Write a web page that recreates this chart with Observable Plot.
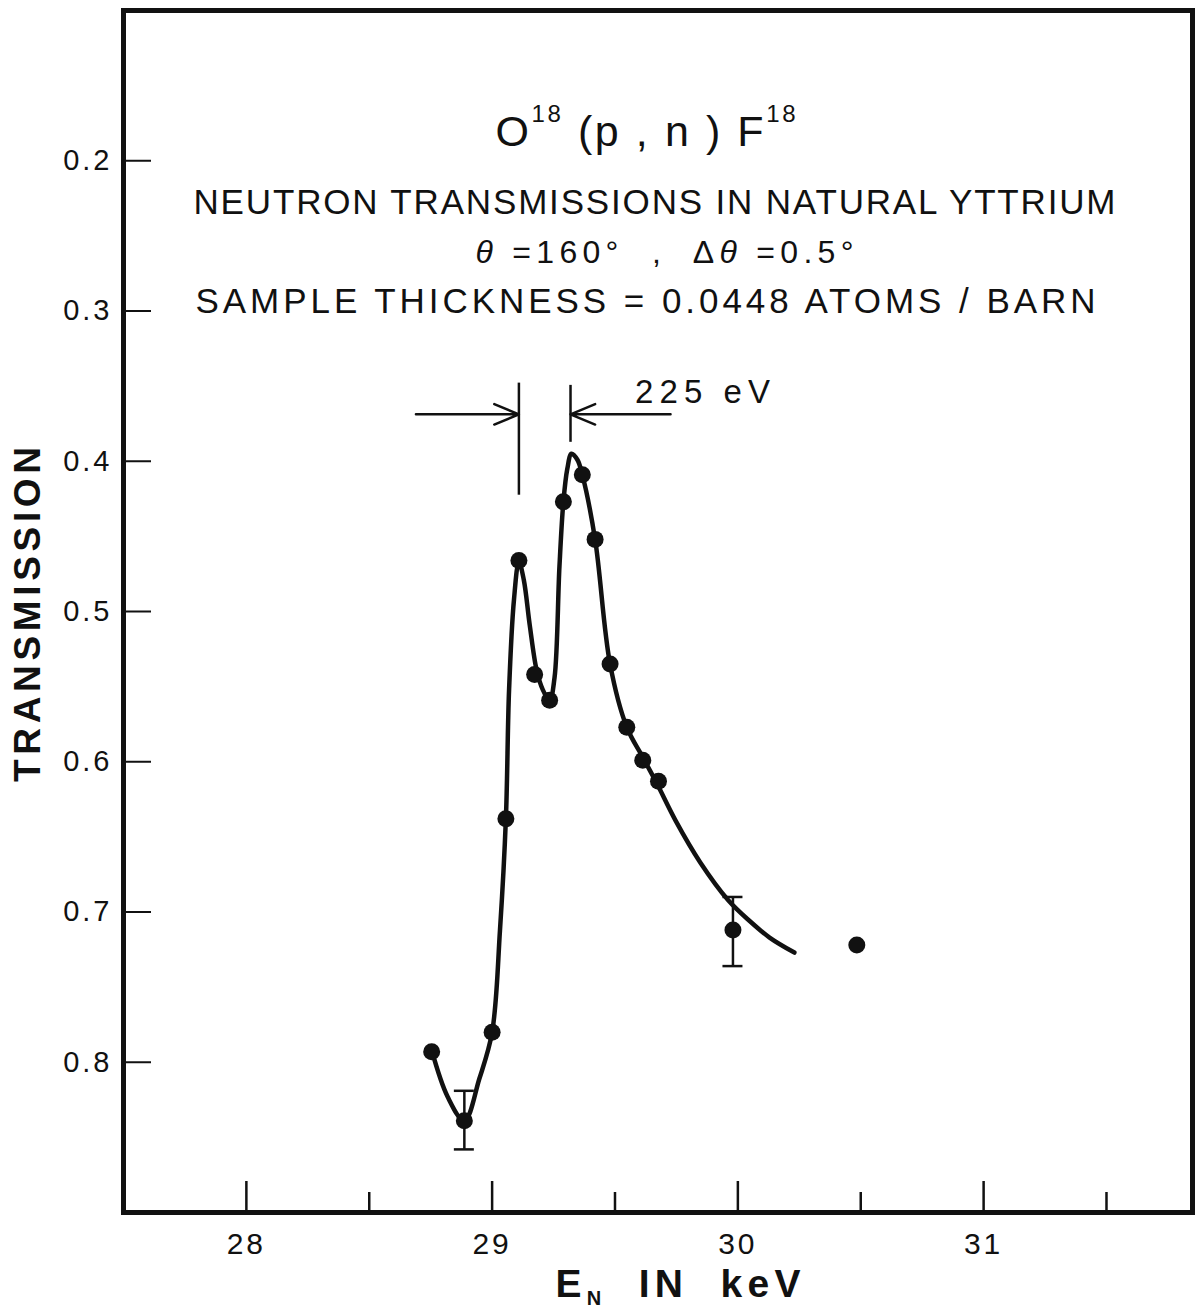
<!DOCTYPE html>
<html>
<head>
<meta charset="utf-8">
<script src="https://cdn.jsdelivr.net/npm/d3@7"></script>
<script src="https://cdn.jsdelivr.net/npm/@observablehq/plot@0.6"></script>
<style>
  html, body { margin: 0; padding: 0; background: #fff; }
  #chart svg { display: block; }
</style>
</head>
<body>
<div id="chart"></div>
<script>
// ---- data ----
const energy = [28.754, 28.887, 29.000, 29.056, 29.109, 29.173, 29.234, 29.290, 29.367, 29.419, 29.480, 29.548, 29.613, 29.677, 29.980, 30.484];
const transmission = [0.793, 0.839, 0.780, 0.638, 0.466, 0.542, 0.559, 0.427, 0.409, 0.452, 0.535, 0.577, 0.599, 0.613, 0.712, 0.722];

const errEnergy = [28.887, 29.980];
const errTop = [0.819, 0.690];
const errBottom = [0.858, 0.736];

const curveEnergy = [28.754, 28.819, 28.887, 28.948, 29.000, 29.032, 29.056, 29.069, 29.089, 29.109, 29.129, 29.153, 29.181, 29.206, 29.234, 29.254, 29.274, 29.290, 29.306, 29.323, 29.347, 29.367, 29.419, 29.480, 29.548, 29.613, 29.669, 29.746, 29.847, 29.960, 30.048, 30.129, 30.230];
const curveTransmission = [0.792, 0.823, 0.839, 0.811, 0.780, 0.712, 0.638, 0.552, 0.492, 0.467, 0.479, 0.509, 0.539, 0.552, 0.559, 0.544, 0.470, 0.427, 0.405, 0.395, 0.399, 0.409, 0.452, 0.535, 0.577, 0.597, 0.614, 0.639, 0.667, 0.692, 0.706, 0.717, 0.727];

const xMajorTicks = [28, 29, 30, 31];
const xMinorTicks = [28.5, 29.5, 30.5, 31.5];
const yTicks = [0.2, 0.3, 0.4, 0.5, 0.6, 0.7, 0.8];

// 225 eV width markers
const markerEnergy = [29.109, 29.319];
const markerTop = [0.348, 0.3495];
const markerBottom = [0.4226, 0.3874];
const arrowStart = [28.690, 29.726];
const arrowLevel = 0.3688;

// texts
const titleText = "O18 (p,n) F18";
const line1Text = "NEUTRON TRANSMISSIONS IN NATURAL YTTRIUM";
const line2Text = "θ =160° , Δθ =0.5°";
const line3Text = "SAMPLE THICKNESS = 0.0448 ATOMS / BARN";
const widthText = "225 eV";
const yLabelText = "TRANSMISSION";
const xLabelText = "EN IN keV";

// ---- layout ----
const W = 1197, H = 1315;
const mL = 123, mR = 5, mT = 10, mB = 103;
const plotW = W - mL - mR;
const plotH = H - mT - mB;

const points = energy.map((x, i) => ({x, y: transmission[i]}));
const curve = curveEnergy.map((x, i) => ({x, y: curveTransmission[i]}));
const errors = errEnergy.map((x, i) => ({x, top: errTop[i], bottom: errBottom[i]}));
const markers = markerEnergy.map((x, i) => ({x, y1: markerTop[i], y2: markerBottom[i]}));
const arrows = arrowStart.map((x1, i) => ({x1, x2: markerEnergy[i], y: arrowLevel}));

// annotation styling (pixel layout)
const notes = [
  {text: titleText, cx: 645, base: 145, size: 43, width: 300, weight: "normal",
   parts: [["O"], ["18", "sup"], [" (p , n ) F"], ["18", "sup"]]},
  {text: line1Text, cx: 654, base: 213, size: 35, width: 922, weight: "normal"},
  {text: line2Text, cx: 664, base: 262, size: 32, width: 378, weight: "normal",
   parts: [["θ", "it"], [" =160°  ,  Δ"], ["θ", "it"], [" =0.5°"]]},
  {text: line3Text, cx: 645, base: 312, size: 35, width: 900, weight: "normal"},
  {text: widthText, cx: 702, base: 402, size: 33, width: 135, weight: "normal"}
];

const marks = [
  Plot.frame({stroke: "#111", strokeWidth: 5}),
  // inward tick marks
  Plot.ruleX(xMajorTicks, {x: d => d, insetTop: plotH - 31, stroke: "#111", strokeWidth: 2.5}),
  Plot.ruleX(xMinorTicks, {x: d => d, insetTop: plotH - 20, stroke: "#111", strokeWidth: 2.5}),
  Plot.ruleY(yTicks, {y: d => d, insetRight: plotW - 28, stroke: "#111", strokeWidth: 2}),
  Plot.axisX({ticks: xMajorTicks, tickSize: 0, tickPadding: 20, fontSize: 30, label: null, tickFormat: d => String(d)}),
  Plot.axisY({ticks: yTicks, tickSize: 0, tickPadding: 11, fontSize: 29, label: null, tickFormat: d3.format(".1f")}),
  // fitted curve
  Plot.line(curve, {x: "x", y: "y", curve: "catmull-rom", stroke: "#111", strokeWidth: 4.5}),
  // error bars
  Plot.ruleX(errors, {x: "x", y1: "top", y2: "bottom", stroke: "#111", strokeWidth: 2.5}),
  Plot.ruleY(errors, {y: "top", x1: "x", x2: "x", insetLeft: -10, insetRight: -10, stroke: "#111", strokeWidth: 2.5}),
  Plot.ruleY(errors, {y: "bottom", x1: "x", x2: "x", insetLeft: -10, insetRight: -10, stroke: "#111", strokeWidth: 2.5}),
  // data points
  Plot.dot(points, {x: "x", y: "y", r: 8.5, fill: "#111", stroke: null}),
  // 225 eV resolution markers
  Plot.ruleX(markers, {x: "x", y1: "y1", y2: "y2", stroke: "#111", strokeWidth: 2.5}),
  Plot.arrow(arrows, {x1: "x1", x2: "x2", y1: "y", y2: "y", stroke: "#111", strokeWidth: 2.5, headLength: 16, headAngle: 45}),
  // annotation texts
  ...notes.map(n => Plot.text([n.text], {
    text: d => d, frameAnchor: "top-left", dx: n.cx - mL, dy: n.base - mT,
    textAnchor: "middle", lineAnchor: "bottom", fontSize: n.size, fontWeight: n.weight, fill: "#111"
  })),
  // axis titles
  Plot.text([yLabelText], {text: d => d, frameAnchor: "left", dx: 28 - mL, dy: 614 - (mT + plotH / 2),
    rotate: -90, textAnchor: "middle", lineAnchor: "middle", fontSize: 37, fontWeight: "bold", fill: "#111"}),
  Plot.text([xLabelText], {text: d => d, frameAnchor: "bottom-left", dx: 555 - mL, dy: 1296 - (mT + plotH),
    textAnchor: "start", lineAnchor: "bottom", fontSize: 39, fontWeight: "bold", fill: "#111"})
];

const plot = Plot.plot({
  width: W,
  height: H,
  marginLeft: mL, marginRight: mR, marginTop: mT, marginBottom: mB,
  x: {domain: [27.5, 31.85]},
  y: {domain: [0.1, 0.9], reverse: true},
  style: {fontFamily: "'Liberation Sans', Arial, sans-serif", background: "#fff", color: "#111", overflow: "visible"},
  marks
});
document.getElementById("chart").appendChild(plot);

// ---- text refinements: spacing, superscripts, subscripts, italics ----
const svg = d3.select(plot);
const extra = new Map(notes.map(n => [n.text, n]));
extra.set(yLabelText, {width: 335});
extra.set(xLabelText, {width: 245, parts: [["E"], ["N", "sub"], ["  IN  keV"]]});

svg.selectAll("text").each(function () {
  const n = extra.get(this.textContent);
  if (!n) return;
  const t = d3.select(this);
  t.style("white-space", "pre");
  if (n.parts) {
    t.text(null);
    let shift = 0;
    for (const [s, kind] of n.parts) {
      const sp = t.append("tspan").text(s);
      let target = 0;
      if (kind === "sup") { sp.attr("font-size", 24); target = -24; }
      else if (kind === "sub") { sp.attr("font-size", 20); target = 8; }
      else if (kind === "it") { sp.attr("font-style", "italic"); }
      if (target !== shift) { sp.attr("dy", target - shift); shift = target; }
    }
  }
  if (n.width) t.attr("textLength", n.width).attr("lengthAdjust", "spacing");
});
svg.selectAll('g[aria-label="x-axis tick label"] text, g[aria-label="y-axis tick label"] text')
  .style("letter-spacing", "3px");
</script>
</body>
</html>
